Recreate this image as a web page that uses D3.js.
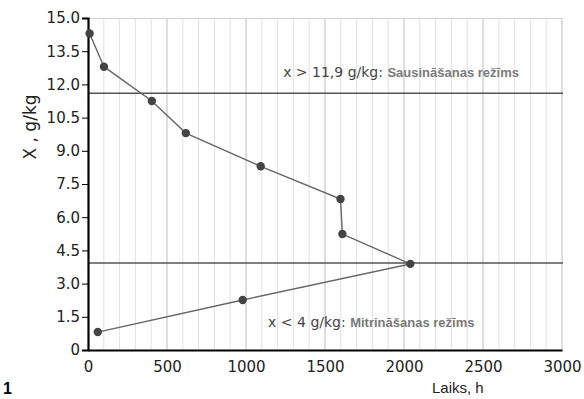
<!DOCTYPE html>
<html><head><meta charset="utf-8">
<script src="https://cdn.jsdelivr.net/npm/d3@7"></script>
<style>body{margin:0;background:#fff}svg{display:block}</style>
</head><body>
<svg id="c" width="584" height="399"></svg>
<script>
const timeH = [10, 101, 404, 619, 1093, 1598, 1610, 2040, 979, 62];
const moisture = [14.3, 12.8, 11.25, 9.8, 8.3, 6.82, 5.24, 3.89, 2.26, 0.81];
const xTicks = [0, 500, 1000, 1500, 2000, 2500, 3000];
const yTicks = [0, 1.5, 3.0, 4.5, 6.0, 7.5, 9.0, 10.5, 12.0, 13.5, 15.0];
const yTickLabels = ["0", "1.5", "3.0", "4.5", "6.0", "7.5", "9.0", "10.5", "12.0", "13.5", "15.0"];
const refLevels = [11.6, 3.93];
const refLabelsA = ["x > 11,9 g/kg: ", "x < 4 g/kg: "];
const refLabelsB = ["Sausināšanas režīms", "Mitrināšanas režīms"];
const refLabelValues = [12.35, 1.05];
const refLabelTimes = [1235, 1140];

const svg = d3.select("#c");
const x = d3.scaleLinear().domain([0, 3000]).range([88, 562]);
const y = d3.scaleLinear().domain([0, 15]).range([350, 18]);

// vertical grid
const minor = d3.range(100, 3001, 100);
svg.append("g").selectAll("line").data(minor).join("line")
  .attr("x1", d => x(d)).attr("x2", d => x(d)).attr("y1", y(15)).attr("y2", y(0))
  .attr("stroke", d => d % 500 === 0 ? "#bdbdbd" : "#e2e2e2").attr("stroke-width", 1);
// top border
svg.append("line").attr("x1", x(0)).attr("x2", x(3000)).attr("y1", y(15)+0.5).attr("y2", y(15)+0.5)
  .attr("stroke", "#d0d0d0");

// reference lines
svg.append("g").selectAll("line").data(refLevels).join("line")
  .attr("x1", x(0)).attr("x2", x(3000)+1).attr("y1", d => y(d)).attr("y2", d => y(d))
  .attr("stroke", "#555").attr("stroke-width", 1.3);

// labels on ref lines
refLevels.forEach((lv, i) => {
  const t = svg.append("text").attr("x", x(refLabelTimes[i])).attr("y", y(refLabelValues[i]))
    .attr("font-family", "DejaVu Sans").attr("font-size", 14).attr("fill", "#444");
  t.append("tspan").text(refLabelsA[i]);
  t.append("tspan").text(refLabelsB[i]).attr("font-family", "Liberation Sans Narrow, Liberation Sans")
    .attr("font-weight", "bold").attr("font-size", 13).attr("fill", "#7a7a7a");
});

// axes
const yAxis = d3.axisLeft(y).tickValues(yTicks).tickFormat((d, i) => yTickLabels[i]).tickSize(6).tickPadding(2);
const gy = svg.append("g").attr("transform", `translate(${x(0)},0)`).call(yAxis);
gy.select(".domain").attr("stroke", "#000").attr("stroke-width", 2.2);
gy.selectAll(".tick line").attr("stroke", "#000");
gy.selectAll("text").attr("font-family", "DejaVu Sans").attr("font-size", 15).attr("fill", "#222");

const xAxis = d3.axisBottom(x).tickValues(xTicks).tickFormat(d3.format("d")).tickSize(0).tickPadding(11);
const gx = svg.append("g").attr("transform", `translate(0,${y(0)})`).call(xAxis);
gx.select(".domain").attr("stroke", "#000").attr("stroke-width", 2);
gx.selectAll("text").attr("font-family", "DejaVu Sans").attr("font-size", 15).attr("fill", "#222");

// data line
const pts = timeH.map((t, i) => [t, moisture[i]]);
svg.append("path").datum(pts)
  .attr("d", d3.line().x(d => x(d[0])).y(d => y(d[1])))
  .attr("fill", "none").attr("stroke", "#666").attr("stroke-width", 1.4);
svg.append("g").selectAll("circle").data(pts).join("circle")
  .attr("cx", d => x(d[0])).attr("cy", d => y(d[1])).attr("r", 4.2).attr("fill", "#444");

// titles
svg.append("text").attr("transform", "translate(36,127) rotate(-90)").attr("text-anchor", "middle")
  .attr("font-family", "DejaVu Sans").attr("font-size", 17).attr("fill", "#222").text("X , g/kg");
svg.append("text").attr("x", 432).attr("y", 393).attr("font-family", "Liberation Sans")
  .attr("font-size", 15).attr("fill", "#222").text("Laiks, h");
svg.append("text").attr("x", 3).attr("y", 394).attr("font-family", "Liberation Sans").attr("font-weight", "bold")
  .attr("font-size", 16).attr("fill", "#000").text("1");
</script>
</body></html>
